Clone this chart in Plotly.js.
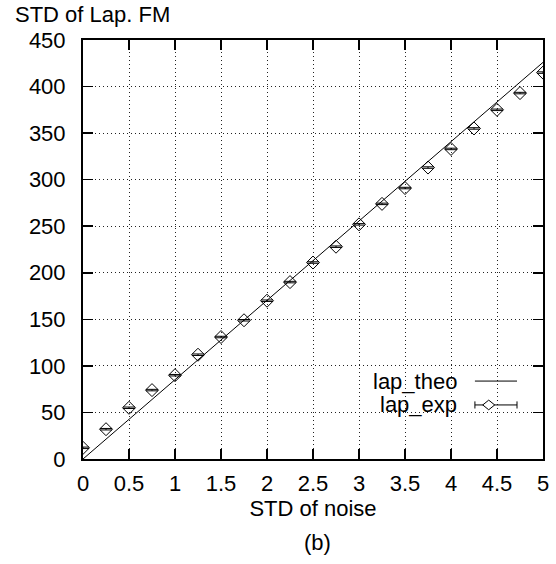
<!DOCTYPE html>
<html>
<head>
<meta charset="utf-8">
<script src="https://cdn.plot.ly/plotly-3.0.1.min.js"></script>
<style>html,body{margin:0;padding:0;background:#fff}</style>
</head>
<body>
<div id="chart" style="width:556px;height:564px"></div>
<script>
// Theoretical curve (end points)
const theoX = [0, 5];
const theoY = [0, 426];

// Experimental values
const expX = [0, 0.25, 0.5, 0.75, 1, 1.25, 1.5, 1.75, 2, 2.25, 2.5, 2.75, 3, 3.25, 3.5, 3.75, 4, 4.25, 4.5, 4.75, 5];
const expY = [12, 32, 55, 74, 90, 112, 131, 149, 170, 190, 211, 228, 252, 274, 291, 313, 333, 355, 375, 393, 415];
const expErr = [0.8, 0.8, 0.8, 0.8, 0.8, 0.8, 0.8, 0.8, 0.8, 0.8, 0.8, 0.8, 0.8, 0.8, 0.8, 0.8, 0.8, 0.8, 0.8, 0.8, 0.8];

const xTicks = [0, 0.5, 1, 1.5, 2, 2.5, 3, 3.5, 4, 4.5, 5];
const xTickText = ['0', '0.5', '1', '1.5', '2', '2.5', '3', '3.5', '4', '4.5', '5'];
const yTicks = [0, 50, 100, 150, 200, 250, 300, 350, 400, 450];
const yTickText = ['0', '50', '100', '150', '200', '250', '300', '350', '400', '450'];

const FONT = 'Liberation Sans, Arial, Helvetica, sans-serif';
const FS = 22;

const traces = [
  {
    x: theoX, y: theoY, mode: 'lines', name: 'lap_theo',
    line: {color: '#000', width: 1}, hoverinfo: 'skip'
  },
  {
    x: expX, y: expY, mode: 'markers', name: 'lap_exp',
    marker: {symbol: 'diamond-open', size: 10, color: '#000', line: {width: 1, color: '#000'}},
    error_y: {type: 'data', array: expErr, visible: true, color: '#000', thickness: 1, width: 6}
  }
];

// legend geometry (paper coords)
const lgX0 = 0.852, lgX1 = 0.9435, lgY1 = 0.186, lgY2 = 0.129, dX = 0.882;
const capH = 0.0085, dW = 0.013, dH = 0.0115;

const layout = {
  width: 556, height: 564,
  margin: {l: 83, r: 13, t: 40, b: 105},
  paper_bgcolor: '#fff', plot_bgcolor: '#fff',
  showlegend: false,
  font: {family: FONT, size: FS, color: '#000'},
  xaxis: {
    range: [0, 5], tickvals: xTicks, ticktext: xTickText,
    ticks: 'inside', ticklen: 10, tickwidth: 1.5, tickcolor: '#000',
    showline: true, linewidth: 2, linecolor: '#000', mirror: 'ticks',
    showgrid: true, gridcolor: '#222', gridwidth: 1, griddash: '1px,3px',
    zeroline: false, ticklabelstandoff: 4,
    tickfont: {family: FONT, size: FS, color: '#000'},
    title: {text: 'STD of noise', font: {family: FONT, size: FS, color: '#000'}, standoff: 2}
  },
  yaxis: {
    range: [0, 450], tickvals: yTicks, ticktext: yTickText,
    ticks: 'inside', ticklen: 10, tickwidth: 1.5, tickcolor: '#000',
    showline: true, linewidth: 2, linecolor: '#000', mirror: 'ticks',
    showgrid: true, gridcolor: '#222', gridwidth: 1, griddash: '1px,3px',
    zeroline: false, ticklabelstandoff: 11,
    tickfont: {family: FONT, size: FS, color: '#000'}
  },
  annotations: [
    {text: 'STD of Lap. FM', xref: 'paper', yref: 'paper', x: -0.152, y: 1.062, xanchor: 'left', yanchor: 'middle', showarrow: false, font: {family: FONT, size: FS, color: '#000'}},
    {text: '(b)', xref: 'paper', yref: 'paper', x: 0.51, y: -0.2, xanchor: 'center', yanchor: 'middle', showarrow: false, font: {family: FONT, size: FS, color: '#000'}},
    {text: 'lap_theo', xref: 'paper', yref: 'paper', x: 0.8174, y: lgY1, xanchor: 'right', yanchor: 'middle', showarrow: false, font: {family: FONT, size: FS, color: '#000'}},
    {text: 'lap_exp', xref: 'paper', yref: 'paper', x: 0.8174, y: lgY2, xanchor: 'right', yanchor: 'middle', showarrow: false, font: {family: FONT, size: FS, color: '#000'}}
  ],
  shapes: [
    {type: 'line', xref: 'paper', yref: 'paper', x0: lgX0, x1: lgX1, y0: lgY1, y1: lgY1, line: {color: '#000', width: 1}},
    {type: 'line', xref: 'paper', yref: 'paper', x0: lgX0, x1: lgX1, y0: lgY2, y1: lgY2, line: {color: '#000', width: 1}},
    {type: 'line', xref: 'paper', yref: 'paper', x0: lgX0, x1: lgX0, y0: lgY2 - capH, y1: lgY2 + capH, line: {color: '#000', width: 1}},
    {type: 'line', xref: 'paper', yref: 'paper', x0: lgX1, x1: lgX1, y0: lgY2 - capH, y1: lgY2 + capH, line: {color: '#000', width: 1}},
    {type: 'path', xref: 'paper', yref: 'paper',
     path: `M ${dX - dW} ${lgY2} L ${dX} ${lgY2 + dH} L ${dX + dW} ${lgY2} L ${dX} ${lgY2 - dH} Z`,
     fillcolor: '#fff', line: {color: '#000', width: 1}}
  ]
};

Plotly.newPlot('chart', traces, layout, {displayModeBar: false, staticPlot: true});
</script>
</body>
</html>
